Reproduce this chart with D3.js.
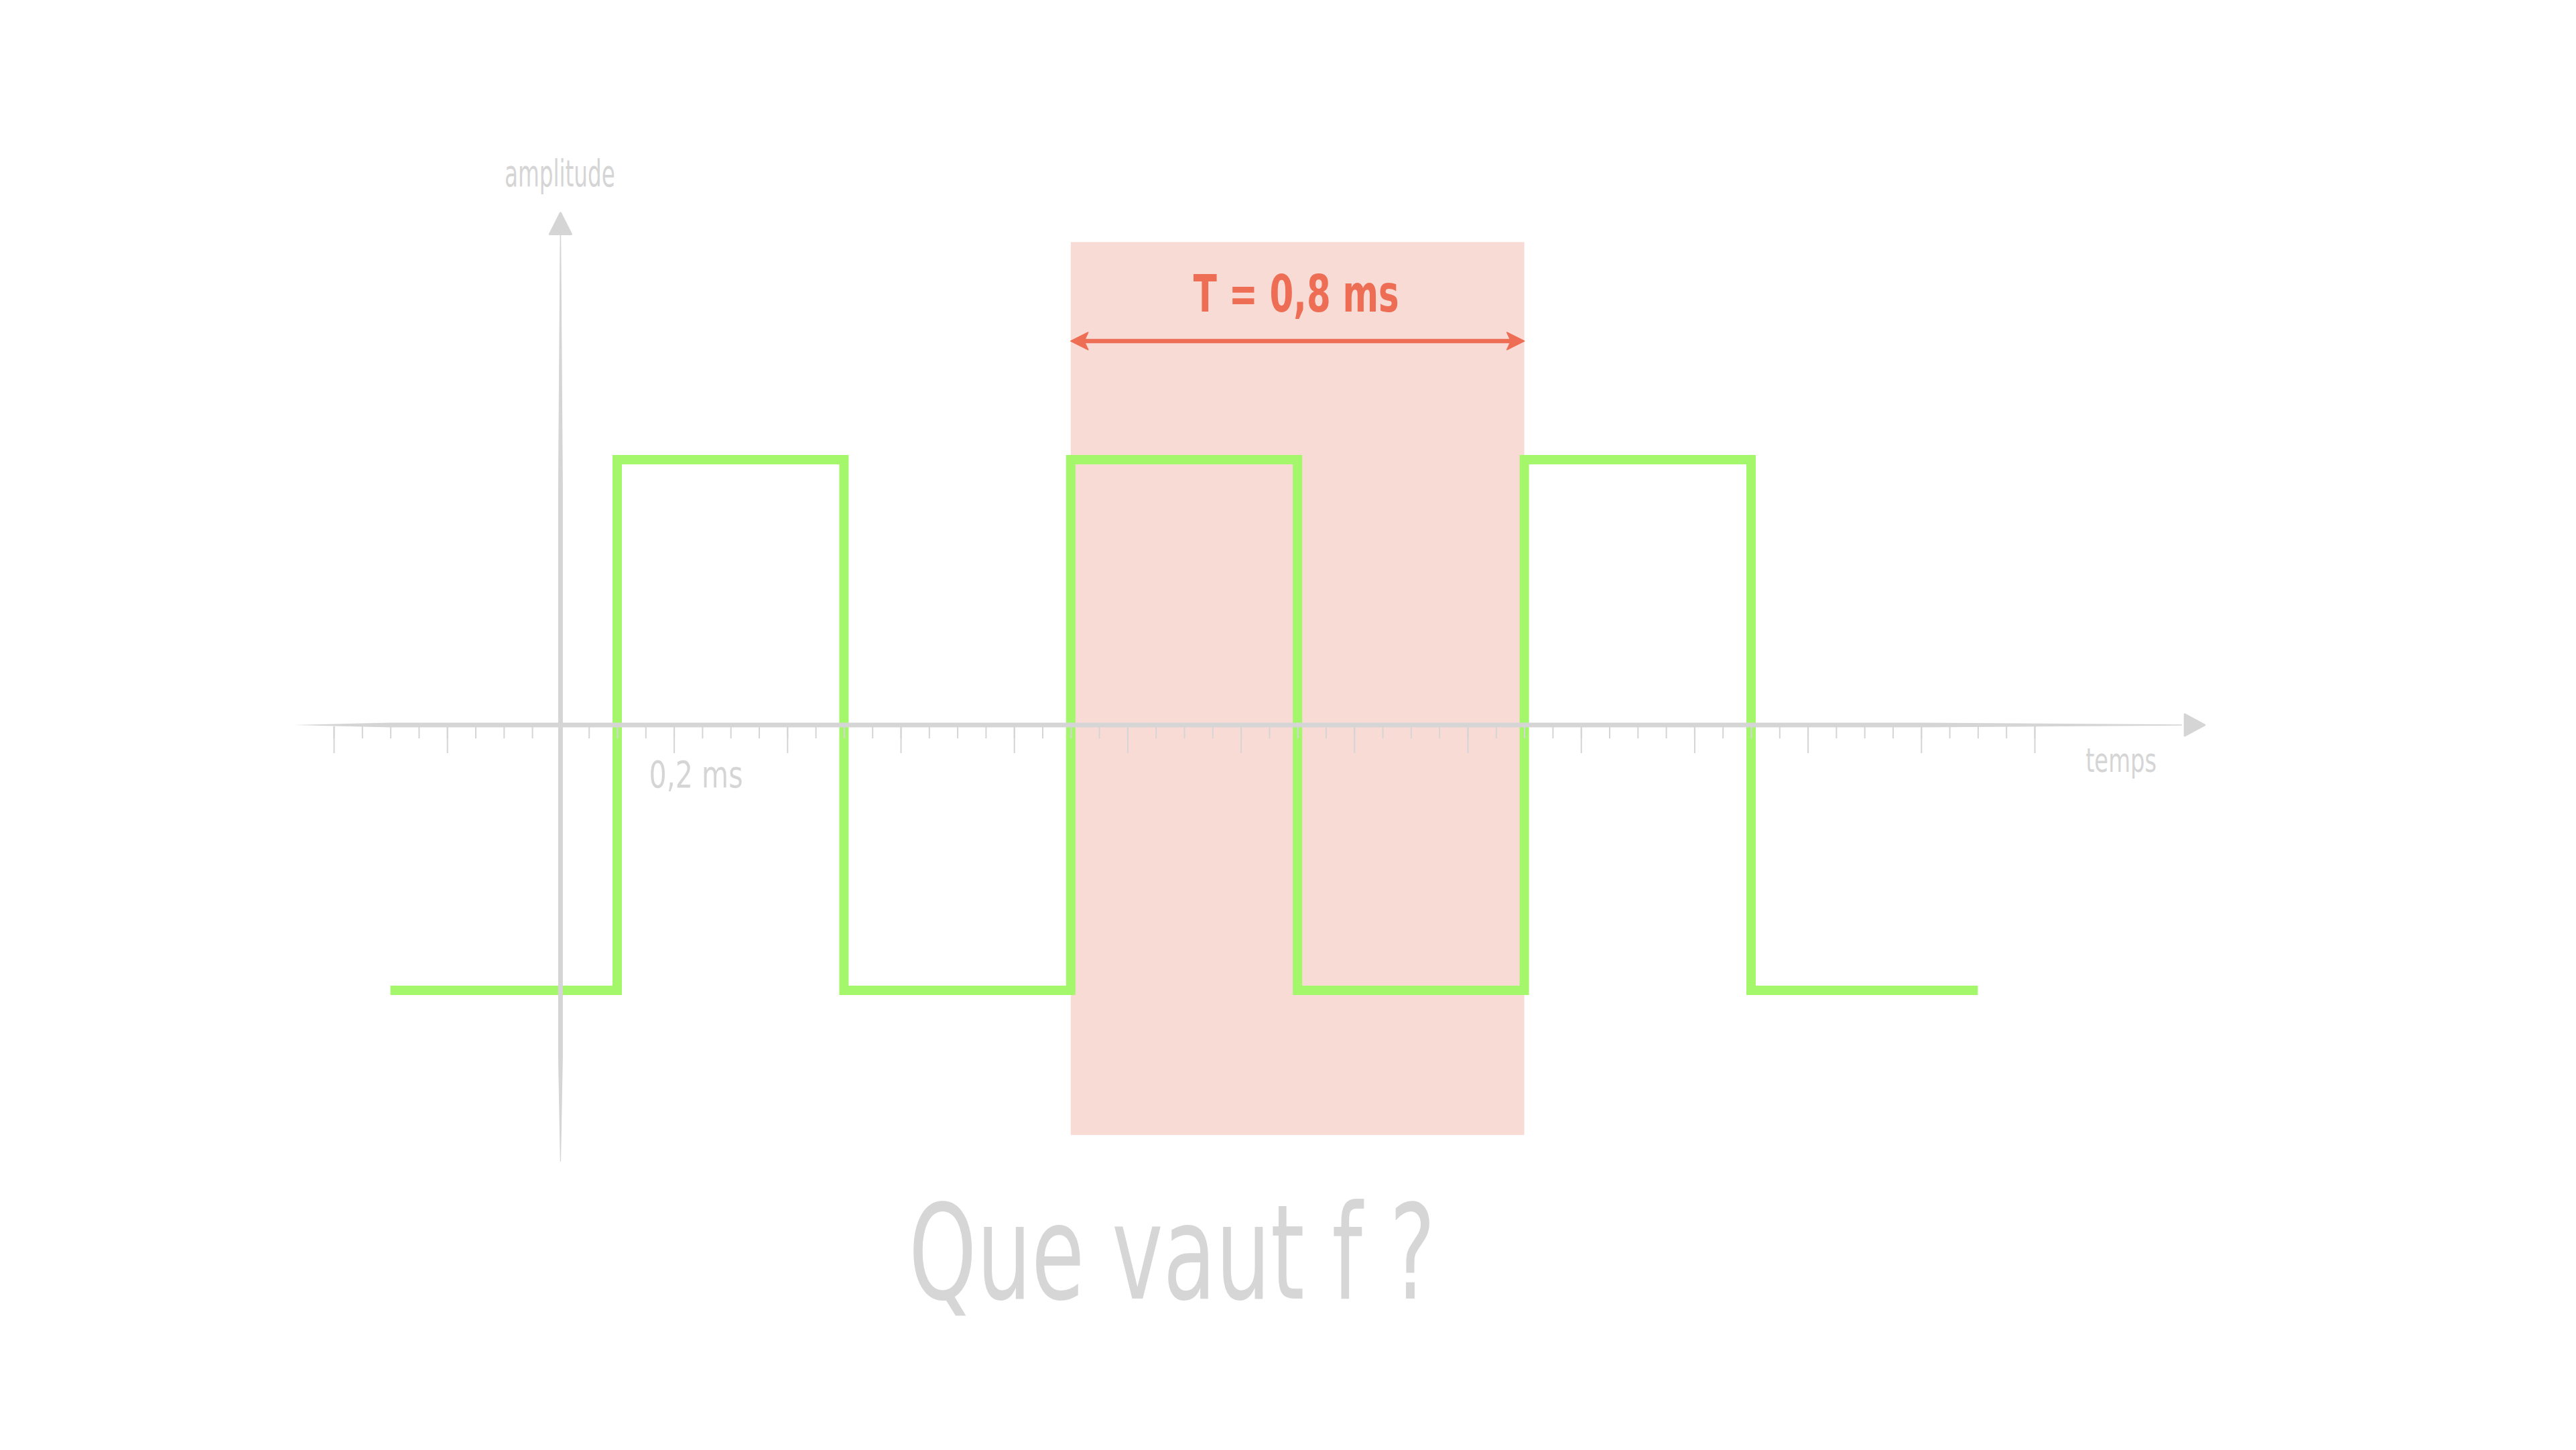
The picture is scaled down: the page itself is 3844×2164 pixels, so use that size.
<!DOCTYPE html>
<html>
<head>
<meta charset="utf-8">
<script src="https://cdn.jsdelivr.net/npm/d3@7"></script>
<style>
  html, body { margin: 0; padding: 0; background: #ffffff; }
  svg { display: block; }
  text { font-family: "Liberation Sans Narrow", "DejaVu Sans Condensed", "Open Sans", sans-serif; }
</style>
</head>
<body>
<script>
// ---------- data ----------
const edgeTimes  = [-0.3, 0.1, 0.5, 0.9, 1.3, 1.7, 2.1, 2.5];   // ms
const edgeLevels = [-1, 1, -1, 1, -1, 1, -1, -1];              // amplitude
const periodBounds = [0.9, 1.7];                                 // ms
const periodLabel = "T = 0,8 ms";
const tickLabelValues = [0.2];
const tickLabels = ["0,2 ms"];
const axisLabels = ["amplitude", "temps"];
const questionText = "Que vaut f ?";
const minorTickValues = d3.range(-8, 53).map(i => +(i * 0.05).toFixed(2));
const majorTickValues = d3.range(-2, 14).map(i => +(i * 0.2).toFixed(2));

// ---------- layout ----------
const W = 3844, H = 2164;
const x = d3.scaleLinear().domain([0, 1]).range([836.4, 1682.4]);
const y = d3.scaleLinear().domain([0, 1]).range([1082, 686]);

const AXIS = "#d5d5d5";
const GREEN = "#a4f76a";
const CORAL = "#ee6e55";
const PINK = "#f9dbd6";

const svg = d3.select("body").append("svg")
  .attr("width", W).attr("height", H)
  .attr("viewBox", `0 0 ${W} ${H}`);
svg.append("rect").attr("width", W).attr("height", H).attr("fill", "#ffffff");

// period band
svg.append("rect")
  .attr("x", x(periodBounds[0]))
  .attr("y", y(1.82))
  .attr("width", x(periodBounds[1]) - x(periodBounds[0]))
  .attr("height", y(-1.545) - y(1.82))
  .attr("fill", PINK);

// signal
const pts = edgeTimes.map((t, i) => [t, edgeLevels[i]]);
svg.append("path")
  .datum(pts)
  .attr("d", d3.line().x(d => x(d[0])).y(d => y(d[1])).curve(d3.curveStepAfter))
  .attr("fill", "none")
  .attr("stroke", GREEN)
  .attr("stroke-width", 14)
  .attr("stroke-linejoin", "miter")
  .attr("stroke-linecap", "butt");

// ---------- axes ----------
const cx = x(0), cy = y(0);
const poly = d3.line().curve(d3.curveLinearClosed);

// y axis (tapered stroke)
svg.append("path")
  .attr("d", poly([
    [cx - 0.8, y(1.85)], [cx + 0.8, y(1.85)],
    [cx + 3.5, y(0.9)], [cx + 3.5, y(-1.25)],
    [cx + 0.6, y(-1.645)], [cx - 0.6, y(-1.645)],
    [cx - 3.5, y(-1.25)], [cx - 3.5, y(0.9)]
  ]))
  .attr("fill", AXIS);
// y arrow head
svg.append("path")
  .attr("d", poly([[cx, y(1.93)], [cx + 16, y(1.85)], [cx - 16, y(1.85)]]))
  .attr("fill", AXIS).attr("stroke", AXIS).attr("stroke-width", 3).attr("stroke-linejoin", "round");

// x axis (tapered stroke)
svg.append("path")
  .attr("d", poly([
    [x(-0.47), cy],
    [x(-0.3), cy - 3.5], [x(2.4), cy - 3.5],
    [x(2.86), cy - 0.8], [x(2.86), cy + 0.8],
    [x(2.4), cy + 3.5], [x(-0.3), cy + 3.5]
  ]))
  .attr("fill", AXIS);
// x arrow head
svg.append("path")
  .attr("d", poly([[x(2.90), cy], [x(2.865), cy - 16], [x(2.865), cy + 16]]))
  .attr("fill", AXIS).attr("stroke", AXIS).attr("stroke-width", 3).attr("stroke-linejoin", "round");

// ticks
const minorAxis = d3.axisBottom(x).tickValues(minorTickValues).tickSize(18).tickFormat("");
const majorAxis = d3.axisBottom(x).tickValues(majorTickValues).tickSize(40).tickFormat("");
[minorAxis, majorAxis].forEach(ax => {
  const g = svg.append("g")
    .attr("transform", `translate(0,${cy + 2})`)
    .call(ax);
  g.select(".domain").remove();
  g.selectAll(".tick line").attr("stroke", AXIS).attr("stroke-width", 2);
});

// tick label
svg.selectAll("text.ticklabel")
  .data(tickLabelValues)
  .join("text")
  .attr("class", "ticklabel")
  .attr("x", d => x(d) - 37)
  .attr("y", cy + 93)
  .attr("font-size", 56)
  .attr("fill", AXIS)
  .attr("textLength", 140)
  .attr("lengthAdjust", "spacingAndGlyphs")
  .text((d, i) => tickLabels[i]);

// axis labels
svg.append("text")
  .attr("x", cx - 1)
  .attr("y", y(2.03))
  .attr("text-anchor", "middle")
  .attr("font-size", 56)
  .attr("fill", AXIS)
  .attr("textLength", 165)
  .attr("lengthAdjust", "spacingAndGlyphs")
  .text(axisLabels[0]);

svg.append("text")
  .attr("x", x(2.69))
  .attr("y", cy + 70)
  .attr("font-size", 50)
  .attr("fill", AXIS)
  .attr("textLength", 106)
  .attr("lengthAdjust", "spacingAndGlyphs")
  .text(axisLabels[1]);

// ---------- period annotation ----------
const ay = y(1.447);
const xl = x(periodBounds[0]), xr = x(periodBounds[1]);
svg.append("line")
  .attr("x1", xl + 12).attr("x2", xr - 12)
  .attr("y1", ay).attr("y2", ay)
  .attr("stroke", CORAL).attr("stroke-width", 6.5);
svg.append("path")
  .attr("d", poly([[xl, ay], [xl + 26, ay - 13], [xl + 20, ay], [xl + 26, ay + 13]]))
  .attr("fill", CORAL).attr("stroke", CORAL).attr("stroke-width", 1.5).attr("stroke-linejoin", "round");
svg.append("path")
  .attr("d", poly([[xr, ay], [xr - 26, ay - 13], [xr - 20, ay], [xr - 26, ay + 13]]))
  .attr("fill", CORAL).attr("stroke", CORAL).attr("stroke-width", 1.5).attr("stroke-linejoin", "round");

svg.append("text")
  .attr("x", (xl + xr) / 2 - 2)
  .attr("y", y(1.558))
  .attr("text-anchor", "middle")
  .attr("font-size", 76)
  .attr("font-weight", "bold")
  .attr("fill", CORAL)
  .attr("textLength", 307)
  .attr("lengthAdjust", "spacingAndGlyphs")
  .text(periodLabel);

// ---------- question ----------
svg.append("text")
  .attr("x", 1356)
  .attr("y", y(-2.162))
  .attr("font-size", 196)
  .attr("fill", "#d6d6d6")
  .attr("textLength", 786)
  .attr("lengthAdjust", "spacingAndGlyphs")
  .text(questionText);
</script>
</body>
</html>
